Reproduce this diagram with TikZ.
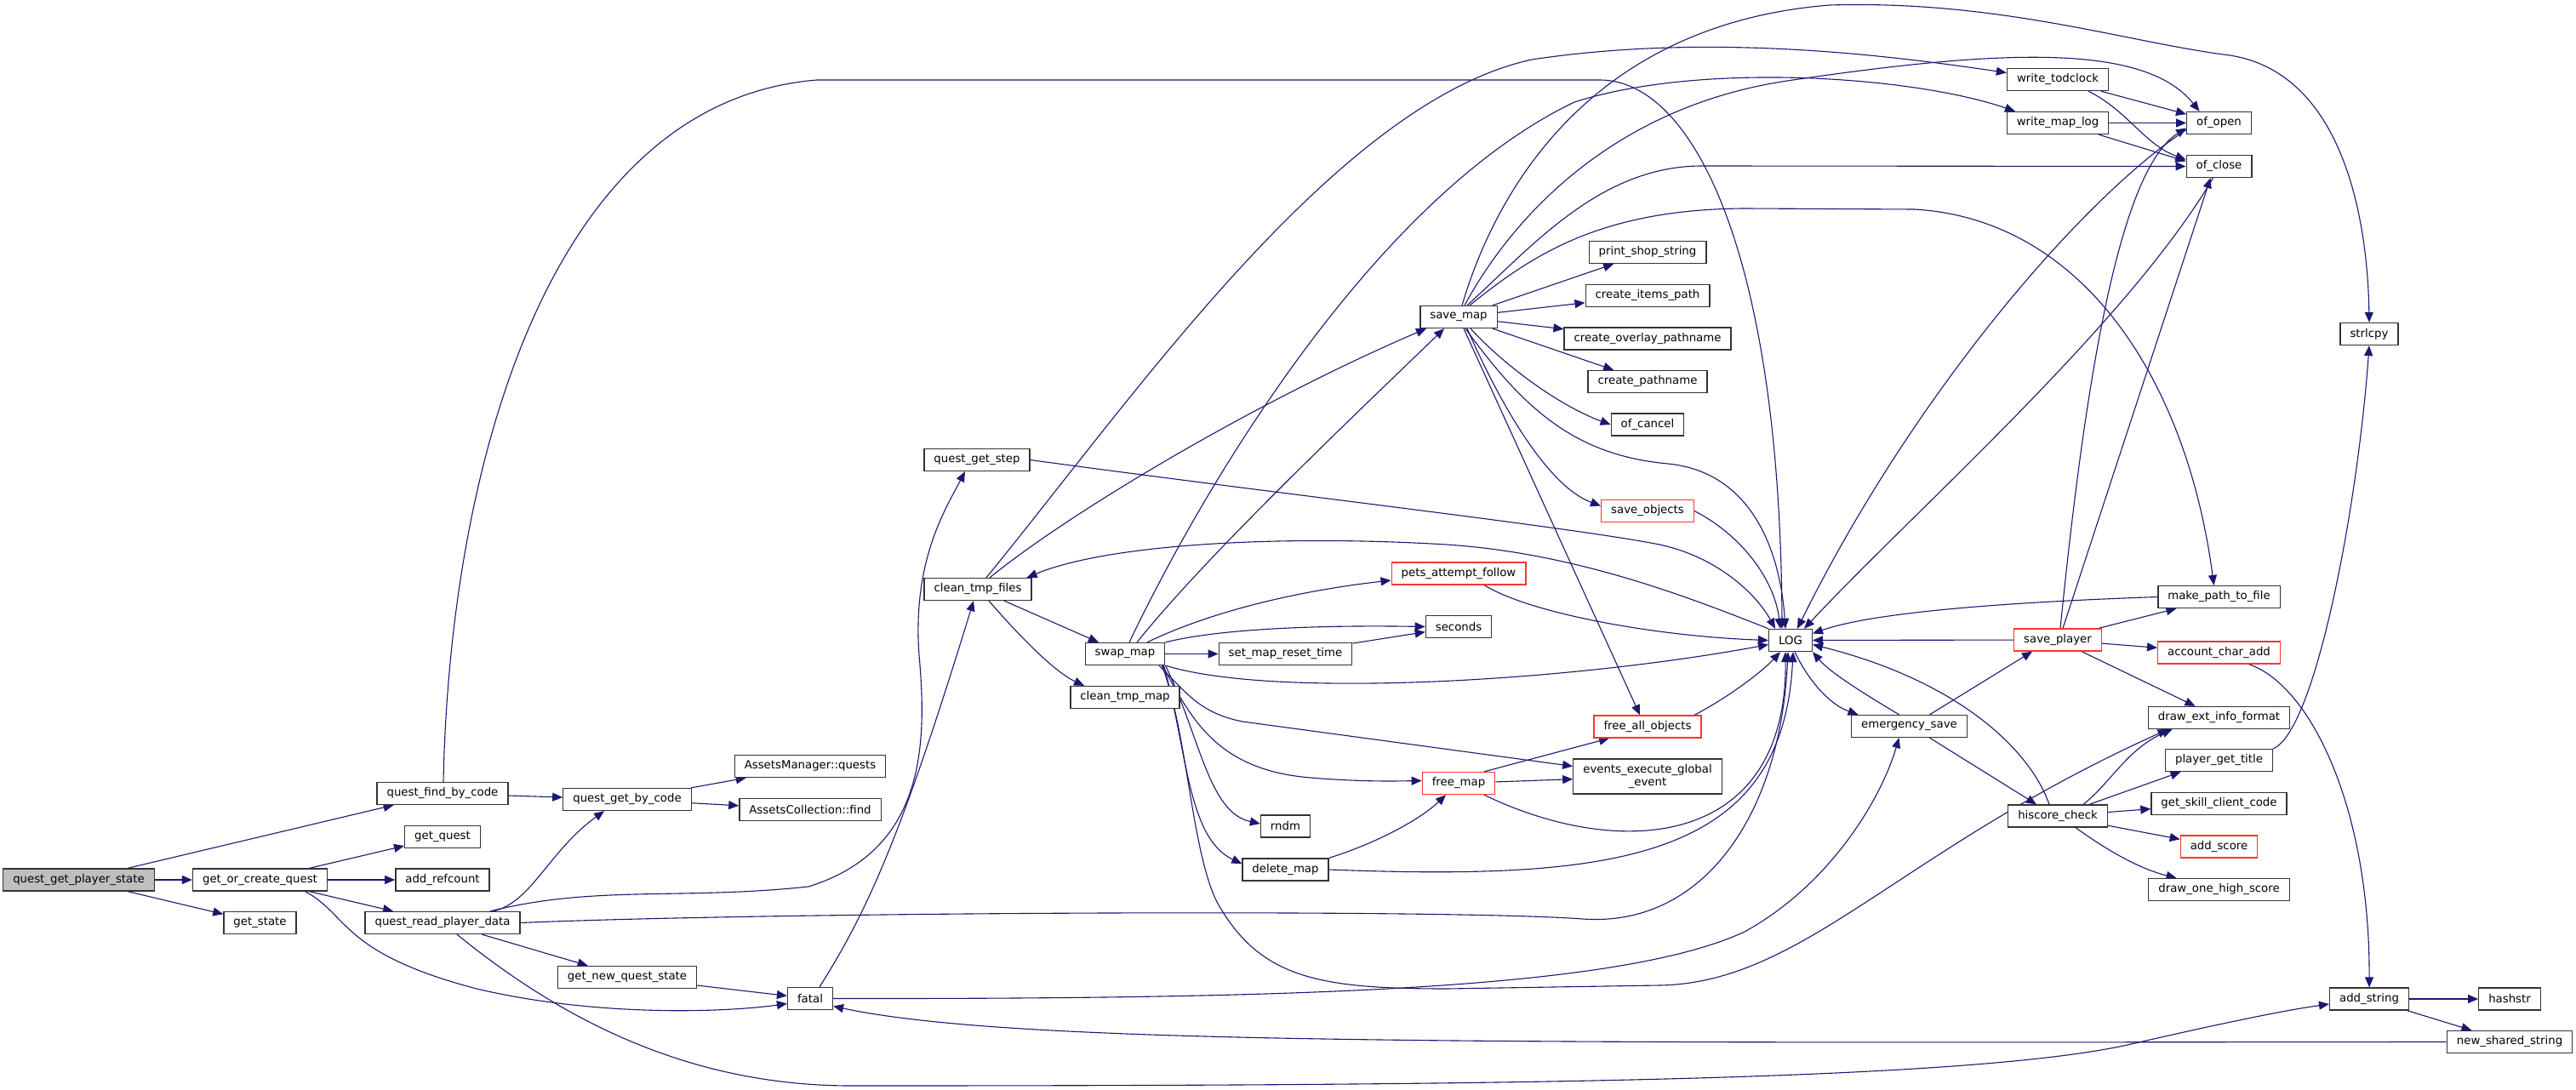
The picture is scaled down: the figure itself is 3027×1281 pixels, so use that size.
\documentclass[tikz,border=0pt]{standalone}
\usepackage{fontspec}
\setmainfont{DejaVu Sans}
\usetikzlibrary{arrows.meta}
\pgfdeclarelayer{bg}
\pgfsetlayers{bg,main}
\definecolor{edgeblue}{HTML}{191970}
\definecolor{nodered}{HTML}{FF3333}
\definecolor{rootgray}{HTML}{BFBFBF}
\definecolor{boxborder}{HTML}{333333}
\tikzset{
  fn/.style={draw=boxborder, line width=1.3pt, fill=white, text=black, inner xsep=11.5pt, inner ysep=0pt,
    minimum height=26pt, font=\fontsize{13.3}{15.5}\selectfont},
  fnred/.style={fn, draw=nodered},
  fnroot/.style={fn, fill=rootgray},
  e/.style={draw=edgeblue, line width=1.1pt, -{Triangle[length=12pt,width=10pt]}},
}
\begin{document}
\begin{tikzpicture}[x=1pt,y=-1pt]
\useasboundingbox (0,0) rectangle (3027,1281);
\begin{pgfonlayer}{bg}
\fill[white] (0,0) rectangle (3027,1281);
\end{pgfonlayer}
% nodes
\node[fnroot] (qgps) at (92.5,1034) {quest\_get\_player\_state};
\node[fn] (gocq) at (305.5,1034) {get\_or\_create\_quest};
\node[fn] (getstate) at (305.5,1084.5) {get\_state};
\node[fn] (qfbc) at (520,932.5) {quest\_find\_by\_code};
\node[fn] (getquest) at (520,983.5) {get\_quest};
\node[fn] (addref) at (520,1034) {add\_refcount};
\node[fn] (qrpd) at (520,1084.5) {quest\_read\_player\_data};
\node[fn] (qgbc) at (737,939.5) {quest\_get\_by\_code};
\node[fn] (gnqs) at (737,1148.5) {get\_new\_quest\_state};
\node[fn] (amq) at (952,900.5) {AssetsManager::quests};
\node[fn] (acf) at (952,951.5) {AssetsCollection::find};
\node[fn] (fatal) at (952,1173.5) {fatal};
\node[fn] (qgstep) at (1148,540.5) {quest\_get\_step};
\node[fn] (ctf) at (1149,692.5) {clean\_tmp\_files};
\node[fn] (swap) at (1322,768.5) {swap\_map};
\node[fn] (ctm) at (1322,819.5) {clean\_tmp\_map};
\node[fn] (smrt) at (1510.5,768.5) {set\_map\_reset\_time};
\node[fn] (rndm) at (1510.5,971) {rndm};
\node[fn] (delmap) at (1510.5,1022) {delete\_map};
\node[fn] (savemap) at (1714,372.5) {save\_map};
\node[fnred] (paf) at (1714,674) {pets\_attempt\_follow};
\node[fn] (seconds) at (1714,736.5) {seconds};
\node[fnred] (freemap) at (1714,920.5) {free\_map};
\node[fn] (pss) at (1936,296.5) {print\_shop\_string};
\node[fn] (cip) at (1936,347.5) {create\_items\_path};
\node[fn] (cop) at (1936,398) {create\_overlay\_pathname};
\node[fn] (cpn) at (1936,448.5) {create\_pathname};
\node[fn] (ofcancel) at (1936,499) {of\_cancel};
\node[fnred] (saveobj) at (1936,600.5) {save\_objects};
\node[fnred] (fao) at (1936,854) {free\_all\_objects};
\node[fn, align=center, minimum height=41pt] (eeg) at (1936,912.5) {events\_execute\_global\\\_event};
\node[fn] (LOG) at (2104,752.5) {LOG};
\node[fn] (esave) at (2243.5,853.5) {emergency\_save};
\node[fn] (wtc) at (2418,93.5) {write\_todclock};
\node[fn] (wml) at (2418,144.5) {write\_map\_log};
\node[fnred] (saveplayer) at (2418,752) {save\_player};
\node[fn] (hsc) at (2418,959) {hiscore\_check};
\node[fn] (ofopen) at (2607.5,144.5) {of\_open};
\node[fn] (ofclose) at (2607.5,195.5) {of\_close};
\node[fn] (mptf) at (2607.5,701.5) {make\_path\_to\_file};
\node[fnred] (aca) at (2607.5,767) {account\_char\_add};
\node[fn] (deif) at (2607.5,843.5) {draw\_ext\_info\_format};
\node[fn] (pgt) at (2607.5,893.5) {player\_get\_title};
\node[fn] (gscc) at (2607.5,944.5) {get\_skill\_client\_code};
\node[fnred] (addscore) at (2607.5,995) {add\_score};
\node[fn] (dohs) at (2607.5,1045.5) {draw\_one\_high\_score};
\node[fn] (strlcpy) at (2784,392.5) {strlcpy};
\node[fn] (addstring) at (2784,1174) {add\_string};
\node[fn] (hashstr) at (2949,1174) {hashstr};
\node[fn] (nss) at (2949,1224.5) {new\_shared\_string};
% edges
\begin{pgfonlayer}{bg}
\draw[e] (qgps) -- (qfbc);
\draw[e] (qgps) -- (gocq);
\draw[e] (qgps) -- (getstate);
\draw[e] (gocq) -- (getquest);
\draw[e] (gocq) -- (addref);
\draw[e] (gocq) -- (qrpd);
\draw[e] ([xshift=53pt]gocq.south) .. controls (410,1075) and (400,1120) .. (560,1162) .. controls (700,1195) and (850,1190) .. ([yshift=-6pt]fatal.west);
\draw[e] (qfbc) -- (qgbc);
\draw[e] ([xshift=1pt]qfbc.north) .. controls (528,560) and (640,120) .. (960,94) -- (1880,94) .. controls (1990,94) and (2092,300) .. ([xshift=-10pt]LOG.north);
\draw[e] (qgbc) -- (amq);
\draw[e] (qgbc) -- (acf);
\draw[e] ([xshift=60pt]qrpd.north) .. controls (625,1060) and (645,1000) .. ([xshift=-27pt]qgbc.south);
\draw[e] (qrpd) -- (gnqs);
\draw[e] (qrpd.east) .. controls (900,1072) and (1700,1068) .. (1860,1080) .. controls (2000,1090) and (2092,960) .. ([xshift=-3pt]LOG.south);
\draw[e] ([xshift=56pt]qrpd.north) .. controls (700,1040) and (800,1058) .. (950,1042) .. controls (1085,1000) and (1090,880) .. (1080,770) .. controls (1072,660) and (1110,600) .. ([xshift=-14pt]qgstep.south);
\draw[e] ([xshift=17pt]qrpd.south) .. controls (650,1190) and (800,1276) .. (1000,1276) .. controls (1700,1276) and (2300,1272) .. (2500,1228) .. controls (2600,1205) and (2680,1188) .. ([yshift=-6pt]addstring.west);
\draw[e] (gnqs) -- (fatal);
\draw[e] (qgstep.east) .. controls (1500,580) and (1850,620) .. (1950,640) .. controls (2020,655) and (2065,700) .. ([xshift=-18pt]LOG.north);
\draw[e] (LOG.north west) .. controls (1980,700) and (1850,650) .. (1700,640) .. controls (1500,628) and (1300,640) .. ([xshift=-6pt]ctf.north east);
\draw[e] ([xshift=11pt]fatal.north) .. controls (1020,1070) and (1060,980) .. ([xshift=-5pt]ctf.south);
\draw[e] (fatal.east) .. controls (1500,1174) and (1900,1165) .. (2050,1095) .. controls (2150,1040) and (2210,940) .. ([xshift=-12pt]esave.south);
\draw[e] (ctf) -- (swap);
\draw[e] ([xshift=13pt]ctf.south) .. controls (1200,750) and (1240,790) .. ([xshift=-48pt]ctm.north);
\draw[e] ([xshift=14pt]ctf.north) .. controls (1260,600) and (1480,470) .. ([xshift=-38pt]savemap.south);
\draw[e] ([xshift=10pt]ctf.north) .. controls (1330,470) and (1570,120) .. (1800,70) .. controls (2000,40) and (2200,62) .. ([yshift=8pt]wtc.west);
\draw[e] ([xshift=5pt]swap.north) .. controls (1420,560) and (1620,230) .. (1850,120) .. controls (2000,72) and (2250,90) .. ([xshift=-50pt]wml.north);
\draw[e] ([xshift=14pt]swap.north) .. controls (1420,650) and (1600,480) .. ([xshift=-17pt]savemap.south);
\draw[e] ([xshift=26pt]swap.north) .. controls (1420,720) and (1520,695) .. ([yshift=-8pt]paf.west);
\draw[e] (swap.north east) .. controls (1420,742) and (1520,734) .. (seconds.west);
\draw[e] (swap) -- (smrt);
\draw[e] (smrt) -- (seconds);
\draw[e] (swap.south east) .. controls (1500,822) and (1850,800) .. ([yshift=-5pt]LOG.west);
\draw[e] ([xshift=40pt]swap.south) .. controls (1395,815) and (1410,838) .. (1460,848) -- ([yshift=12pt]eeg.west);
\draw[e] ([xshift=44pt]swap.south) .. controls (1400,845) and (1430,905) .. (1540,914) .. controls (1600,919) and (1640,918) .. ([yshift=3pt]freemap.west);
\draw[e] (swap.south east) .. controls (1410,865) and (1420,955) .. ([yshift=3pt]rndm.west);
\draw[e] ([xshift=-2pt]swap.south east) .. controls (1395,880) and (1395,985) .. ([yshift=7pt]delmap.west);
\draw[e] ([xshift=-4pt]swap.south east) .. controls (1395,860) and (1400,1000) .. (1430,1060) .. controls (1480,1150) and (1550,1162) .. (1700,1162) -- (1950,1158) .. controls (2120,1155) and (2230,1000) .. ([xshift=-60pt]deif.south);
\draw[e] (savemap) -- (pss);
\draw[e] (savemap) -- (cip);
\draw[e] (savemap) -- (cop);
\draw[e] (savemap) -- (cpn);
\draw[e] ([xshift=14pt]savemap.south) .. controls (1770,432) and (1835,478) .. (ofcancel.west);
\draw[e] ([xshift=10pt]savemap.south) .. controls (1765,480) and (1820,572) .. ([yshift=6pt]saveobj.west);
\draw[e] ([xshift=6pt]savemap.south) -- ([xshift=-9pt]fao.north);
\draw[e] ([xshift=8pt]savemap.south) .. controls (1790,480) and (1850,535) .. (1960,545) .. controls (2060,555) and (2092,650) .. ([xshift=-6pt]LOG.north);
\draw[e] (saveobj.east) .. controls (2045,628) and (2085,680) .. ([xshift=-12pt]LOG.north);
\draw[e] ([xshift=4pt]savemap.north) .. controls (1750,250) and (1850,30) .. (2150,6) .. controls (2350,0) and (2500,50) .. (2620,65) .. controls (2750,85) and (2782,250) .. (strlcpy.north);
\draw[e] ([xshift=7pt]savemap.north) .. controls (1780,250) and (1900,125) .. (2100,95) .. controls (2350,58) and (2520,50) .. ([xshift=-23pt]ofopen.north);
\draw[e] ([xshift=10pt]savemap.north) .. controls (1800,290) and (1880,195) .. (2000,195) -- (ofclose.west);
\draw[e] ([xshift=13pt]savemap.north) .. controls (1800,300) and (1880,246) .. (2050,245) -- (2250,246) .. controls (2450,258) and (2570,450) .. ([xshift=-6pt]mptf.north);
\draw[e] ([xshift=30pt]paf.south) .. controls (1800,722) and (1950,748) .. (LOG.west);
\draw[e] ([xshift=5pt]LOG.south) .. controls (2125,800) and (2150,828) .. ([xshift=-60pt]esave.north);
\draw[e] ([xshift=-12pt]esave.north) .. controls (2190,815) and (2150,790) .. (LOG.south east);
\draw[e] ([xshift=24pt]esave.north) -- ([xshift=-30pt]saveplayer.south);
\draw[e] ([xshift=24pt]esave.south) -- ([xshift=-25pt]hsc.north);
\draw[e] (saveplayer) -- (LOG);
\draw[e] ([xshift=48pt]saveplayer.north) -- ([xshift=-50pt]mptf.south);
\draw[e] (saveplayer) -- (aca);
\draw[e] ([xshift=28pt]saveplayer.south) -- ([xshift=-28pt]deif.north);
\draw[e] ([xshift=3pt]saveplayer.north) .. controls (2450,450) and (2490,200) .. ([yshift=-6pt]ofopen.west);
\draw[e] ([xshift=6pt]saveplayer.north) -- ([xshift=-10pt]ofclose.south);
\draw[e] (mptf.west) .. controls (2350,708) and (2200,720) .. ([yshift=8pt]LOG.east);
\draw[e] ([xshift=35pt]aca.south) .. controls (2715,805) and (2785,950) .. (addstring.north);
\draw[e] (wtc) -- (ofopen);
\draw[e] ([xshift=36pt]wtc.south) .. controls (2500,130) and (2520,170) .. ([yshift=8pt]ofclose.west);
\draw[e] (wml) -- (ofopen);
\draw[e] ([xshift=48pt]wml.south) -- ([yshift=6pt]ofclose.west);
\draw[e] ([yshift=-8pt]ofopen.west) .. controls (2450,230) and (2250,460) .. ([xshift=8pt]LOG.north);
\draw[e] ([xshift=-7pt]ofclose.south) .. controls (2500,380) and (2250,600) .. ([xshift=16pt]LOG.north);
\draw[e] ([xshift=-10pt]hsc.north) .. controls (2385,880) and (2300,800) .. ([yshift=-5pt]LOG.east);
\draw[e] ([xshift=30pt]hsc.north) .. controls (2480,920) and (2500,880) .. ([xshift=-55pt]deif.south);
\draw[e] ([xshift=37pt]hsc.north) -- ([xshift=-45pt]pgt.south);
\draw[e] (hsc) -- (gscc);
\draw[e] (hsc) -- (addscore);
\draw[e] ([xshift=21pt]hsc.south) .. controls (2470,995) and (2510,1020) .. ([xshift=-50pt]dohs.north);
\draw[e] (pgt.north east) .. controls (2720,860) and (2770,600) .. (strlcpy.south);
\draw[e] (addstring) -- (hashstr);
\draw[e] (addstring) -- (nss);
\draw[e] (nss.west) .. controls (1800,1225) and (1200,1230) .. ([yshift=-9pt]fatal.east);
\draw[e] ([xshift=30pt]freemap.north) -- ([xshift=-45pt]fao.south);
\draw[e] (freemap) -- (eeg);
\draw[e] ([xshift=30pt]freemap.south) .. controls (1900,1010) and (2100,1000) .. ([xshift=-6pt]LOG.south);
\draw[e] (delmap.north east) .. controls (1620,990) and (1670,962) .. ([xshift=-15pt]freemap.south);
\draw[e] (delmap.east) .. controls (1900,1035) and (2095,1010) .. ([xshift=3pt]LOG.south);
\draw[e] ([xshift=55pt]fao.north) .. controls (2030,820) and (2070,790) .. ([xshift=-12pt]LOG.south);
\end{pgfonlayer}
\end{tikzpicture}
\end{document}
